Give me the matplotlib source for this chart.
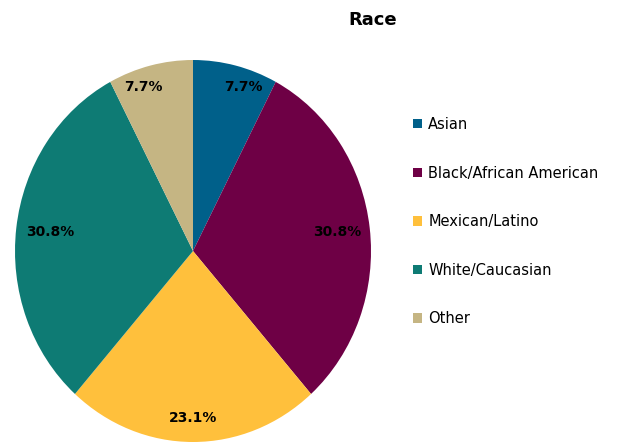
import matplotlib
matplotlib.use("Agg")
import matplotlib.pyplot as plt

categories = ["Asian", "Black/African American", "Mexican/Latino", "White/Caucasian", "Other"]
values = [1, 4, 3, 4, 1]
colors = ["#00608A", "#6E0045", "#FFC03C", "#0E7B74", "#C5B583"]

plt.rcParams['font.family'] = ['DejaVu Sans']
fig = plt.figure(figsize=(6.18, 4.43), dpi=100)
ax = fig.add_axes([15/618, 1/443, 356/618, 382/443])
wedges, texts, autotexts = ax.pie(values, colors=colors, startangle=90, counterclock=False,
                                  autopct='%1.1f%%', pctdistance=0.84,
                                  textprops=dict(fontsize=10, fontweight='bold', color='black'),
                                  wedgeprops=dict(linewidth=0))
# label placement tweaks (x stretch, y stretch) per slice, Excel-like best fit
stretch = [(1.4, 1.05), (0.97, 1.0), (1.0, 1.04), (0.96, 1.0), (1.4, 1.05)]
for t, (sx, sy) in zip(autotexts, stretch):
    x, y = t.get_position()
    t.set_position((x * sx, y * sy))
ax.set_aspect('auto')
ax.set_xlim(-1, 1)
ax.set_ylim(-1, 1)
ax.axis('off')

fig.text(373/618, 1 - 20/443, "Race", ha='center', va='center', fontsize=13, fontweight='bold')

leg = fig.legend(wedges, categories, loc='upper left', bbox_to_anchor=(413/618, 1 - 117/443),
                 frameon=False, fontsize=10.5, handlelength=0.6, handleheight=0.6,
                 handletextpad=0.45, labelspacing=2.3, borderpad=0, borderaxespad=0)

fig.savefig("out.png", dpi=100)
